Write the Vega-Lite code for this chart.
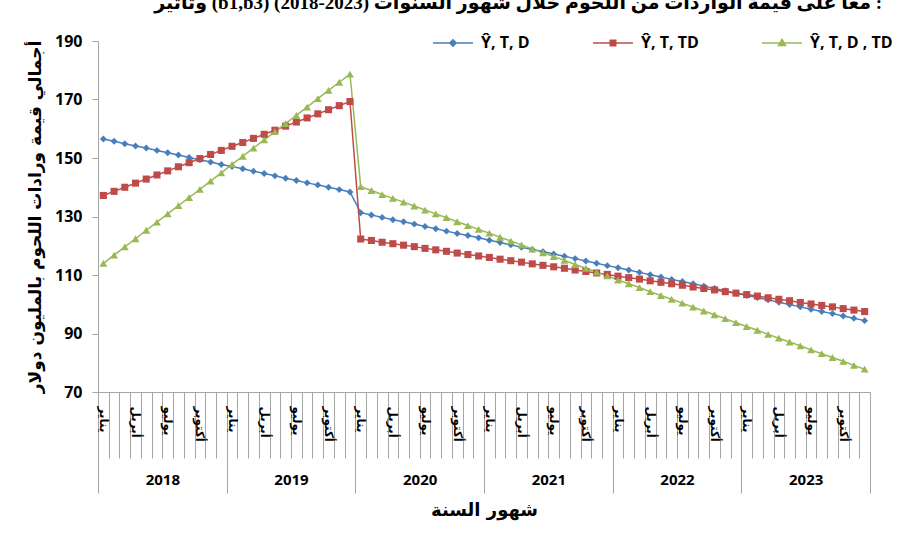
{
  "$schema": "https://vega.github.io/schema/vega-lite/v6.json",
  "width": 772,
  "height": 351,
  "autosize": {"type": "none"},
  "padding": {"left": 98, "top": 41, "right": 30, "bottom": 158},
  "background": "white",
  "title": {
    "text": "وتأثير (b1,b3) معا على قيمة الواردات من اللحوم خلال شهور السنوات (2023-2018) :",
    "anchor": "end",
    "frame": "group",
    "font": "Liberation Serif, DejaVu Sans",
    "fontSize": 19,
    "fontWeight": "bold",
    "color": "black",
    "baseline": "alphabetic",
    "offset": 0,
    "dx": 12,
    "dy": -5
  },
  "config": {
    "view": {"stroke": null},
    "axis": {"grid": false}
  },
  "data": {
    "values": [
      {"t": 0.5, "D": 156.5, "TD": 137.2, "DTD": 114.0},
      {"t": 1.5, "D": 155.7, "TD": 138.6, "DTD": 116.8},
      {"t": 2.5, "D": 154.9, "TD": 140.0, "DTD": 119.6},
      {"t": 3.5, "D": 154.1, "TD": 141.4, "DTD": 122.4},
      {"t": 4.5, "D": 153.4, "TD": 142.8, "DTD": 125.3},
      {"t": 5.5, "D": 152.6, "TD": 144.2, "DTD": 128.1},
      {"t": 6.5, "D": 151.8, "TD": 145.6, "DTD": 130.9},
      {"t": 7.5, "D": 151.0, "TD": 147.0, "DTD": 133.7},
      {"t": 8.5, "D": 150.2, "TD": 148.4, "DTD": 136.5},
      {"t": 9.5, "D": 149.4, "TD": 149.8, "DTD": 139.3},
      {"t": 10.5, "D": 148.6, "TD": 151.2, "DTD": 142.1},
      {"t": 11.5, "D": 147.8, "TD": 152.6, "DTD": 144.9},
      {"t": 12.5, "D": 147.1, "TD": 154.0, "DTD": 147.8},
      {"t": 13.5, "D": 146.3, "TD": 155.3, "DTD": 150.6},
      {"t": 14.5, "D": 145.5, "TD": 156.7, "DTD": 153.4},
      {"t": 15.5, "D": 144.7, "TD": 158.1, "DTD": 156.2},
      {"t": 16.5, "D": 143.9, "TD": 159.5, "DTD": 159.0},
      {"t": 17.5, "D": 143.1, "TD": 160.9, "DTD": 161.8},
      {"t": 18.5, "D": 142.3, "TD": 162.3, "DTD": 164.6},
      {"t": 19.5, "D": 141.5, "TD": 163.7, "DTD": 167.4},
      {"t": 20.5, "D": 140.8, "TD": 165.1, "DTD": 170.3},
      {"t": 21.5, "D": 140.0, "TD": 166.5, "DTD": 173.1},
      {"t": 22.5, "D": 139.2, "TD": 167.9, "DTD": 175.9},
      {"t": 23.5, "D": 138.4, "TD": 169.3, "DTD": 178.7},
      {"t": 24.5, "D": 131.3, "TD": 122.3, "DTD": 140.2},
      {"t": 25.5, "D": 130.5, "TD": 121.8, "DTD": 138.9},
      {"t": 26.5, "D": 129.7, "TD": 121.2, "DTD": 137.5},
      {"t": 27.5, "D": 128.9, "TD": 120.7, "DTD": 136.2},
      {"t": 28.5, "D": 128.2, "TD": 120.2, "DTD": 134.9},
      {"t": 29.5, "D": 127.4, "TD": 119.7, "DTD": 133.6},
      {"t": 30.5, "D": 126.6, "TD": 119.1, "DTD": 132.2},
      {"t": 31.5, "D": 125.8, "TD": 118.6, "DTD": 130.9},
      {"t": 32.5, "D": 125.0, "TD": 118.1, "DTD": 129.6},
      {"t": 33.5, "D": 124.2, "TD": 117.5, "DTD": 128.2},
      {"t": 34.5, "D": 123.5, "TD": 117.0, "DTD": 126.9},
      {"t": 35.5, "D": 122.7, "TD": 116.5, "DTD": 125.6},
      {"t": 36.5, "D": 121.9, "TD": 116.0, "DTD": 124.3},
      {"t": 37.5, "D": 121.1, "TD": 115.4, "DTD": 122.9},
      {"t": 38.5, "D": 120.3, "TD": 114.9, "DTD": 121.6},
      {"t": 39.5, "D": 119.5, "TD": 114.4, "DTD": 120.3},
      {"t": 40.5, "D": 118.7, "TD": 113.8, "DTD": 118.9},
      {"t": 41.5, "D": 118.0, "TD": 113.3, "DTD": 117.6},
      {"t": 42.5, "D": 117.2, "TD": 112.8, "DTD": 116.3},
      {"t": 43.5, "D": 116.4, "TD": 112.3, "DTD": 115.0},
      {"t": 44.5, "D": 115.6, "TD": 111.7, "DTD": 113.6},
      {"t": 45.5, "D": 114.8, "TD": 111.2, "DTD": 112.3},
      {"t": 46.5, "D": 114.0, "TD": 110.7, "DTD": 111.0},
      {"t": 47.5, "D": 113.2, "TD": 110.2, "DTD": 109.7},
      {"t": 48.5, "D": 112.5, "TD": 109.6, "DTD": 108.3},
      {"t": 49.5, "D": 111.7, "TD": 109.1, "DTD": 107.0},
      {"t": 50.5, "D": 110.9, "TD": 108.6, "DTD": 105.7},
      {"t": 51.5, "D": 110.1, "TD": 108.0, "DTD": 104.3},
      {"t": 52.5, "D": 109.3, "TD": 107.5, "DTD": 103.0},
      {"t": 53.5, "D": 108.5, "TD": 107.0, "DTD": 101.7},
      {"t": 54.5, "D": 107.8, "TD": 106.5, "DTD": 100.4},
      {"t": 55.5, "D": 107.0, "TD": 105.9, "DTD": 99.0},
      {"t": 56.5, "D": 106.2, "TD": 105.4, "DTD": 97.7},
      {"t": 57.5, "D": 105.4, "TD": 104.9, "DTD": 96.4},
      {"t": 58.5, "D": 104.6, "TD": 104.3, "DTD": 95.1},
      {"t": 59.5, "D": 103.8, "TD": 103.8, "DTD": 93.7},
      {"t": 60.5, "D": 103.0, "TD": 103.3, "DTD": 92.4},
      {"t": 61.5, "D": 102.3, "TD": 102.8, "DTD": 91.1},
      {"t": 62.5, "D": 101.5, "TD": 102.2, "DTD": 89.7},
      {"t": 63.5, "D": 100.7, "TD": 101.7, "DTD": 88.4},
      {"t": 64.5, "D": 99.9, "TD": 101.2, "DTD": 87.1},
      {"t": 65.5, "D": 99.1, "TD": 100.6, "DTD": 85.8},
      {"t": 66.5, "D": 98.3, "TD": 100.1, "DTD": 84.4},
      {"t": 67.5, "D": 97.5, "TD": 99.6, "DTD": 83.1},
      {"t": 68.5, "D": 96.8, "TD": 99.1, "DTD": 81.8},
      {"t": 69.5, "D": 96.0, "TD": 98.5, "DTD": 80.5},
      {"t": 70.5, "D": 95.2, "TD": 98.0, "DTD": 79.1},
      {"t": 71.5, "D": 94.4, "TD": 97.5, "DTD": 77.8}
    ]
  },
  "transform": [{"fold": ["D", "TD", "DTD"], "as": ["s", "v"]}],
  "encoding": {
    "y": {
      "field": "v",
      "type": "quantitative",
      "scale": {"domain": [70, 190], "nice": false, "zero": false},
      "axis": {
        "values": [70, 90, 110, 130, 150, 170, 190],
        "domainColor": "#a6a6a6",
        "tickColor": "#a6a6a6",
        "tickSize": 6,
        "labelFont": "Open Sans",
        "labelFontSize": 16,
        "labelFontWeight": "bold",
        "labelColor": "black",
        "labelPadding": 10,
        "title": "أجمالي قيمة ورادات اللحوم بالمليون دولار",
        "titleFont": "DejaVu Sans",
        "titleFontSize": 17,
        "titleFontWeight": "bold",
        "titleColor": "black",
        "titlePadding": 10
      }
    }
  },
  "layer": [
    {
      "transform": [{"filter": "datum.s === 'D'"}],
      "mark": {"type": "line", "strokeWidth": 1.5, "color": "#4A7EBB"},
      "encoding": {
        "x": {
          "field": "t",
          "type": "quantitative",
          "scale": {"domain": [0, 72], "nice": false, "zero": false},
          "axis": {
            "orient": "bottom",
            "values": [0,1,2,3,4,5,6,7,8,9,10,11,12,13,14,15,16,17,18,19,20,21,22,23,24,25,26,27,28,29,30,31,32,33,34,35,36,37,38,39,40,41,42,43,44,45,46,47,48,49,50,51,52,53,54,55,56,57,58,59,60,61,62,63,64,65,66,67,68,69,70,71,72],
            "labels": false,
            "domainColor": "#a6a6a6",
            "tickColor": "#a6a6a6",
            "tickSize": {"condition": {"test": "datum.value % 12 === 0", "value": 101}, "value": 66},
            "title": null
          }
        }
      }
    },
    {
      "transform": [{"filter": "datum.s === 'TD'"}],
      "mark": {"type": "line", "strokeWidth": 1.5, "color": "#BE4B48"},
      "encoding": {
        "x": {"field": "t", "type": "quantitative", "scale": {"domain": [0, 72], "nice": false, "zero": false}, "axis": null}
      }
    },
    {
      "transform": [{"filter": "datum.s === 'DTD'"}],
      "mark": {"type": "line", "strokeWidth": 1.5, "color": "#98B954"},
      "encoding": {
        "x": {"field": "t", "type": "quantitative", "scale": {"domain": [0, 72], "nice": false, "zero": false}, "axis": null}
      }
    },
    {
      "transform": [{"filter": "datum.s === 'D'"}],
      "mark": {"type": "point", "filled": true, "opacity": 1, "shape": "diamond", "size": 48, "color": "#4A7EBB"},
      "encoding": {
        "x": {
          "field": "t",
          "type": "quantitative",
          "scale": {"domain": [0, 72], "nice": false, "zero": false},
          "axis": {
            "orient": "bottom",
            "values": [0,3,6,9,12,15,18,21,24,27,30,33,36,39,42,45,48,51,54,57,60,63,66,69],
            "ticks": false,
            "domain": false,
            "labelExpr": "datum.value % 12 === 0 ? 'يناير' : datum.value % 12 === 3 ? 'أبريل' : datum.value % 12 === 6 ? 'يوليو' : 'أكتوبر'",
            "labelAngle": 90,
            "labelAlign": "left",
            "labelBaseline": "middle",
            "labelOffset": 5.36,
            "labelPadding": 14,
            "labelOverlap": false,
            "labelFlush": false,
            "labelBound": false,
            "labelFont": "DejaVu Sans",
            "labelFontSize": 12,
            "labelFontWeight": "bold",
            "labelColor": "black",
            "title": null
          }
        }
      }
    },
    {
      "transform": [{"filter": "datum.s === 'TD'"}],
      "mark": {"type": "point", "filled": true, "opacity": 1, "shape": "square", "size": 50, "color": "#BE4B48"},
      "encoding": {
        "x": {"field": "t", "type": "quantitative", "scale": {"domain": [0, 72], "nice": false, "zero": false}, "axis": null}
      }
    },
    {
      "transform": [{"filter": "datum.s === 'DTD'"}],
      "mark": {"type": "point", "filled": true, "opacity": 1, "shape": "triangle-up", "size": 62, "color": "#98B954"},
      "encoding": {
        "x": {"field": "t", "type": "quantitative", "scale": {"domain": [0, 72], "nice": false, "zero": false}, "axis": null}
      }
    },
    {
      "mark": {"type": "point", "filled": true, "opacity": 0, "strokeWidth": 1.5},
      "encoding": {
        "x": {
          "field": "t",
          "type": "quantitative",
          "scale": {"domain": [0, 72], "nice": false, "zero": false},
          "axis": {
            "orient": "bottom",
            "values": [6, 18, 30, 42, 54, 66],
            "ticks": false,
            "domain": false,
            "labelExpr": "datum.value === 6 ? '2018' : datum.value === 18 ? '2019' : datum.value === 30 ? '2020' : datum.value === 42 ? '2021' : datum.value === 54 ? '2022' : '2023'",
            "labelAngle": 0,
            "labelAlign": "center",
            "labelBaseline": "top",
            "labelPadding": 80,
            "labelOverlap": false,
            "labelFont": "Open Sans",
            "labelFontSize": 15,
            "labelFontWeight": "bold",
            "labelColor": "black",
            "title": "شهور السنة",
            "titleFont": "DejaVu Sans",
            "titleFontSize": 18,
            "titleFontWeight": "bold",
            "titleColor": "black",
            "titlePadding": 14
          }
        },
        "fill": {
          "field": "s",
          "type": "nominal",
          "scale": {"domain": ["D", "TD", "DTD"], "range": ["#4A7EBB", "#BE4B48", "#98B954"]},
          "legend": {
            "orient": "none",
            "legendX": 347,
            "legendY": -6,
            "direction": "horizontal",
            "title": null,
            "padding": 0,
            "columnPadding": 60,
            "symbolSize": 100,
            "symbolStrokeWidth": 1.5,
            "symbolOpacity": 1,
            "labelOffset": 20,
            "labelExpr": "datum.label === 'D' ? 'Ŷ, T, D' : datum.label === 'TD' ? 'Ŷ, T, TD' : 'Ŷ, T, D , TD'",
            "labelFont": "Open Sans",
            "labelFontSize": 16,
            "labelFontWeight": "bold",
            "labelColor": "black"
          }
        },
        "stroke": {
          "field": "s",
          "type": "nominal",
          "scale": {"domain": ["D", "TD", "DTD"], "range": ["#4A7EBB", "#BE4B48", "#98B954"]},
          "legend": {
            "orient": "none",
            "legendX": 347,
            "legendY": -6,
            "direction": "horizontal",
            "title": null,
            "padding": 0,
            "columnPadding": 60,
            "symbolSize": 100,
            "symbolStrokeWidth": 1.5,
            "symbolOpacity": 1,
            "labelOffset": 20,
            "labelExpr": "datum.label === 'D' ? 'Ŷ, T, D' : datum.label === 'TD' ? 'Ŷ, T, TD' : 'Ŷ, T, D , TD'",
            "labelFont": "Open Sans",
            "labelFontSize": 16,
            "labelFontWeight": "bold",
            "labelColor": "black"
          }
        },
        "shape": {
          "field": "s",
          "type": "nominal",
          "scale": {
            "domain": ["D", "TD", "DTD"],
            "range": [
              "M-4,0H4M0,-0.65L0.65,0L0,0.65L-0.65,0Z",
              "M-4,0H4M-0.55,-0.55H0.55V0.55H-0.55Z",
              "M-4,0H4M0,-0.7L0.7,0.5H-0.7Z"
            ]
          },
          "legend": {
            "orient": "none",
            "legendX": 347,
            "legendY": -6,
            "direction": "horizontal",
            "title": null,
            "padding": 0,
            "columnPadding": 60,
            "symbolSize": 100,
            "symbolStrokeWidth": 1.5,
            "symbolOpacity": 1,
            "labelOffset": 20,
            "labelExpr": "datum.label === 'D' ? 'Ŷ, T, D' : datum.label === 'TD' ? 'Ŷ, T, TD' : 'Ŷ, T, D , TD'",
            "labelFont": "Open Sans",
            "labelFontSize": 16,
            "labelFontWeight": "bold",
            "labelColor": "black"
          }
        }
      }
    }
  ],
  "resolve": {
    "axis": {"x": "independent"}
  }
}
